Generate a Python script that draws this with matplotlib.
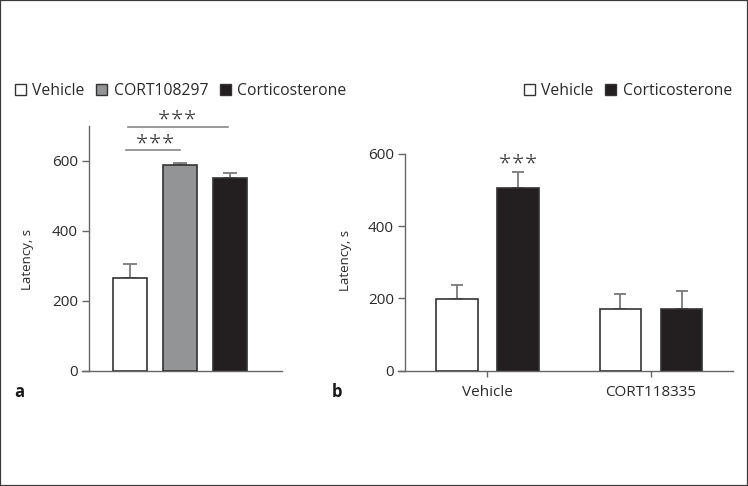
import matplotlib
matplotlib.use("Agg")
import matplotlib.pyplot as plt
from matplotlib.patches import Patch, Rectangle

plt.rcParams['font.family'] = ['Open Sans', 'DejaVu Sans']

# ---- data panel a ----
a_groups = ["Vehicle", "CORT108297", "Corticosterone"]
a_means = [264, 589, 551]
a_errs = [41, 6, 15]
a_colors = ["#ffffff", "#939496", "#231f20"]

# ---- data panel b ----
b_categories = ["Vehicle", "CORT118335"]
b_series = ["Vehicle", "Corticosterone"]
b_vehicle = [199, 170]
b_vehicle_err = [39, 42]
b_cort = [505, 170]
b_cort_err = [45, 50]
b_colors = ["#ffffff", "#231f20"]

edge = "#333333"
errc = "#7a7a7a"
spc = "#666666"
txt = "#2a2a2a"

W, H = 748, 486
fig = plt.figure(figsize=(W / 100, H / 100), dpi=100)

def fx(px):
    return px / W

def fy(py):
    return 1 - py / H

def stars(ax, x, y, n=3, gap=9.4, size=16):
    for i in range(n):
        off = (i - (n - 1) / 2) * gap
        ax.annotate("*", xy=(x, y), xytext=(off, 0), textcoords='offset points',
                    ha='center', va='baseline', fontsize=size, fontweight='light',
                    color="#333333", annotation_clip=False)

# ---------- panel a ----------
axa = fig.add_axes([fx(82), fy(370.7), fx(282) - fx(82), fy(126) - fy(370.7)])
xa = list(range(len(a_means)))
axa.bar(xa, a_means, width=0.68, color=a_colors, edgecolor=edge, linewidth=1.2, zorder=3)
axa.errorbar(xa, a_means, yerr=[[0] * len(a_errs), a_errs], fmt='none', ecolor=errc,
             elinewidth=1.3, capsize=5, capthick=1.3, zorder=2)
axa.set_xlim(-0.966, 3.034)
axa.set_ylim(0, 700)
axa.set_yticks([0, 200, 400, 600])
axa.set_xticks([])
for s in ['top', 'right']:
    axa.spines[s].set_visible(False)
axa.spines['left'].set_position(('axes', 7 / 200))
axa.spines['left'].set_bounds(0, 700)
for s in ['left', 'bottom']:
    axa.spines[s].set_color(spc)
    axa.spines[s].set_linewidth(1.0)
axa.tick_params(axis='y', length=5, width=1.0, color=spc, pad=3, labelsize=11, labelcolor=txt)
axa.set_ylabel("Latency, s", fontsize=9.5, color=txt)
axa.yaxis.set_label_coords((28 - 82) / 200, 0.455)
axa.yaxis.label.set_va('center')

# significance
axa.plot([-0.086, 0.99], [630, 630], color="#888888", lw=1.2, clip_on=False)
axa.plot([-0.046, 1.95], [697, 697], color="#888888", lw=1.2, clip_on=False)
stars(axa, 0.488, 633)
stars(axa, 0.934, 702)

handles_a = [Patch(facecolor=c, edgecolor=edge, linewidth=1.0) for c in a_colors]
fig.legend(handles_a, a_groups, loc='center left', bbox_to_anchor=(fx(15), fy(91)),
           frameon=False, fontsize=11.3, handlelength=0.7, handleheight=0.7,
           handletextpad=0.4, columnspacing=0.75, ncol=3, borderpad=0, borderaxespad=0,
           labelcolor=txt)

# ---------- panel b ----------
axb = fig.add_axes([fx(398), fy(370.7), fx(733) - fx(398), fy(153.7) - fy(370.7)])
xb = list(range(len(b_categories)))
off = 0.187
wb = 0.255
xv = [x - off for x in xb]
xc = [x + off for x in xb]
axb.bar(xv, b_vehicle, width=wb, color=b_colors[0], edgecolor=edge, linewidth=1.2, zorder=3)
axb.bar(xc, b_cort, width=wb, color=b_colors[1], edgecolor=edge, linewidth=1.2, zorder=3)
axb.errorbar(xv, b_vehicle, yerr=[[0] * 2, b_vehicle_err], fmt='none', ecolor=errc,
             elinewidth=1.3, capsize=4, capthick=1.3, zorder=2)
axb.errorbar(xc, b_cort, yerr=[[0] * 2, b_cort_err], fmt='none', ecolor=errc,
             elinewidth=1.3, capsize=4, capthick=1.3, zorder=2)
axb.set_xlim(-0.5455, 1.501)
axb.set_ylim(0, 600)
axb.set_yticks([0, 200, 400, 600])
axb.set_xticks(xb)
axb.set_xticklabels(b_categories)
for s in ['top', 'right']:
    axb.spines[s].set_visible(False)
axb.spines['left'].set_position(('axes', 7 / 335))
for s in ['left', 'bottom']:
    axb.spines[s].set_color(spc)
    axb.spines[s].set_linewidth(1.0)
axb.tick_params(axis='y', length=5, width=1.0, color=spc, pad=3, labelsize=11, labelcolor=txt)
axb.tick_params(axis='x', length=4, width=1.0, color=spc, pad=6, labelsize=11, labelcolor=txt)
axb.set_ylabel("Latency, s", fontsize=9.5, color=txt)
axb.yaxis.set_label_coords((345 - 398) / 335, 0.51)
axb.yaxis.label.set_va('center')
stars(axb, xc[0], 557)

handles_b = [Patch(facecolor=c, edgecolor=edge, linewidth=1.0) for c in b_colors]
fig.legend(handles_b, b_series, loc='center right', bbox_to_anchor=(fx(732), fy(91)),
           frameon=False, fontsize=11.3, handlelength=0.7, handleheight=0.7,
           handletextpad=0.4, columnspacing=0.75, ncol=2, borderpad=0, borderaxespad=0,
           labelcolor=txt)

# panel letters
fig.text(fx(14), fy(392), "a", fontsize=12, fontweight='bold', va='center', ha='left', color="#1a1a1a")
fig.text(fx(332), fy(392), "b", fontsize=12, fontweight='bold', va='center', ha='left', color="#1a1a1a")

# outer frame
fig.patches.append(Rectangle((0, 0), 1, 1, transform=fig.transFigure, fill=False,
                             edgecolor="#3a3a3a", linewidth=1.6, zorder=10))

fig.savefig("out.png", dpi=100)
